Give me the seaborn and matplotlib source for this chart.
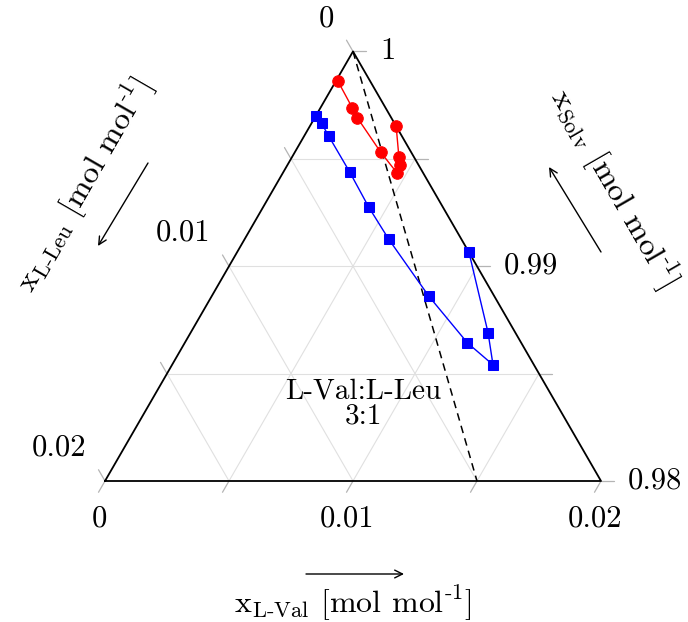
import numpy as np
import pandas as pd
import matplotlib.pyplot as plt
import seaborn as sns

# ─────────────── Data (mole fractions) ───────────────
RED_VAL = [0.00007, 0.00127, 0.00171, 0.00345, 0.00462, 0.00454, 0.00430, 0.00348]
RED_LEU = [0.00130, 0.00134, 0.00137, 0.00123, 0.00105, 0.00076, 0.00060, 0.00000]

BLUE_VAL = [0.00002, 0.00041, 0.00100, 0.00267, 0.00426, 0.00582,
            0.00876, 0.01140, 0.01294, 0.01199, 0.00935]
BLUE_LEU = [0.00300, 0.00294, 0.00295, 0.00294, 0.00299, 0.00293,
            0.00264, 0.00217, 0.00165, 0.00110, 0.00000]

RATIO_VAL, RATIO_LEU = 3, 1          # dashed line L-Val:L-Leu = 3:1
SPAN = 0.02                          # plotted range of each component
GRID_STEPS = [0.005, 0.01, 0.015]
TICK_STEPS = [0.0, 0.005, 0.01, 0.015, 0.02]
VAL_LABELS = ["0", "0.01", "0.02"]
LEU_LABELS = ["0", "0.01", "0.02"]
SOLV_LABELS = ["1", "0.99", "0.98"]
LABEL_STEPS = [0.0, 0.01, 0.02]

# ─────────────── Geometry helpers ───────────────
H = np.sqrt(3) / 2
PX = 496.0                           # pixels per triangle side
X0, Y0 = 105.0, 481.0                # pixel position of bottom-left corner


def tern(val, leu):
    """ternary (x_L-Val, x_L-Leu) -> cartesian, side length 1"""
    u = np.asarray(val) / SPAN
    v = np.asarray(leu) / SPAN
    w = 1 - u - v
    return u + w / 2, w * H


def pix(px, py):
    return (px - X0) / PX, (Y0 - py) / PX


def off(p, dx, dy):
    return p[0] + dx / PX, p[1] - dy / PX


# ─────────────── Style ───────────────
sns.set_theme(style="white")
plt.rcParams["font.family"] = ["cmr10", "DejaVu Serif"]
plt.rcParams["mathtext.fontset"] = "cm"
plt.rcParams["axes.unicode_minus"] = False
plt.rcParams["text.color"] = "black"

fig = plt.figure(figsize=(6.88, 6.22), dpi=100)
ax = fig.add_axes([0, 0, 1, 1])
ax.set_xlim(-X0 / PX, (688 - X0) / PX)
ax.set_ylim(-(622 - Y0) / PX, Y0 / PX)
ax.axis("off")

GRID_C = "#e0e0e0"
TICK_C = "#b4b4b4"
TL = 13 / PX

# grid lines
for t in GRID_STEPS:
    for a, b in [((t, SPAN - t), (t, 0)),          # const L-Val
                 ((SPAN - t, t), (0, t)),          # const L-Leu
                 ((0, t), (t, 0))]:                # const solvent
        xs, ys = tern([a[0], b[0]], [a[1], b[1]])
        ax.plot(xs, ys, color=GRID_C, lw=0.8, zorder=1)

# ticks
for t in TICK_STEPS:
    x, y = tern(t, SPAN - t)                       # bottom (L-Val)
    ax.plot([x, x - 0.5 * TL], [y, y - H * TL], color=TICK_C, lw=0.9, zorder=1)
    x, y = tern(0, t)                              # left (L-Leu)
    ax.plot([x, x - 0.5 * TL], [y, y + H * TL], color=TICK_C, lw=0.9, zorder=1)
    x, y = tern(t, 0)                              # right (solvent)
    ax.plot([x, x + TL], [y, y], color=TICK_C, lw=0.9, zorder=1)

# triangle frame
xs, ys = tern([0, SPAN, 0, 0], [SPAN, 0, 0, SPAN])
ax.plot(xs, ys, color="black", lw=1.3, zorder=3)

# 3:1 ratio line
frac = RATIO_VAL / (RATIO_VAL + RATIO_LEU)
xs, ys = tern([0, SPAN * frac], [0, SPAN * (1 - frac)])
ax.plot(xs, ys, color="black", lw=1.1, ls=(0, (5, 3.5)), zorder=2)

# ─────────────── Data series ───────────────
rx, ry = tern(RED_VAL, RED_LEU)
bx, by = tern(BLUE_VAL, BLUE_LEU)
df_red = pd.DataFrame({"X": rx, "Y": ry})
df_blue = pd.DataFrame({"X": bx, "Y": by})

sns.lineplot(data=df_red, x="X", y="Y", sort=False, estimator=None, color="#ff0000",
             marker="o", markersize=8.3, markeredgecolor="#ff0000", lw=1.0, ax=ax, zorder=4)
sns.lineplot(data=df_blue, x="X", y="Y", sort=False, estimator=None, color="#0000ff",
             marker="s", markersize=7.3, markeredgecolor="#0000ff", lw=1.0, ax=ax, zorder=4)
ax.set_xlabel("")
ax.set_ylabel("")

# ─────────────── Tick labels ───────────────
FS = 22
for t, lab in zip(LABEL_STEPS, VAL_LABELS):
    ax.text(*off(tern(t, SPAN - t), -6, 38), lab, fontsize=FS, ha="center", va="center")
for t, lab in zip(LABEL_STEPS, LEU_LABELS):
    ax.text(*off(tern(0, t), -19, -33), lab, fontsize=FS, ha="right", va="center")
for t, lab in zip(LABEL_STEPS, SOLV_LABELS):
    ax.text(*off(tern(t, 0), 27, 0), lab, fontsize=FS, ha="left", va="center")

# ─────────────── Axis titles and arrows ───────────────
LFS = 23
ax.text(*pix(353, 603), r"x$_{\mathrm{L}\text{-}\mathrm{Val}}$ [mol mol$^{\text{-}1}$]",
        fontsize=LFS, ha="center", va="center")
ax.text(*pix(84, 185), r"x$_{\mathrm{L}\text{-}\mathrm{Leu}}$ [mol mol$^{\text{-}1}$]",
        fontsize=LFS, ha="center", va="center", rotation=60, rotation_mode="anchor")
ax.text(*pix(614, 188), r"x$_{\mathrm{Solv}}$ [mol mol$^{\text{-}1}$]",
        fontsize=LFS, ha="center", va="center", rotation=-60, rotation_mode="anchor")

arrow = dict(arrowstyle="->", lw=1.0, color="black", shrinkA=0, shrinkB=0,
             mutation_scale=14)
ax.annotate("", xy=pix(404, 574), xytext=pix(306, 574), arrowprops=arrow)
ax.annotate("", xy=pix(98, 246), xytext=pix(148, 163), arrowprops=arrow)
ax.annotate("", xy=pix(549, 167), xytext=pix(601, 252), arrowprops=arrow)

# ratio annotation
ax.text(*pix(363, 404), "L-Val:L-Leu\n3:1", fontsize=21, ha="center", va="center",
        linespacing=0.95)

fig.savefig("out.png", dpi=100)
